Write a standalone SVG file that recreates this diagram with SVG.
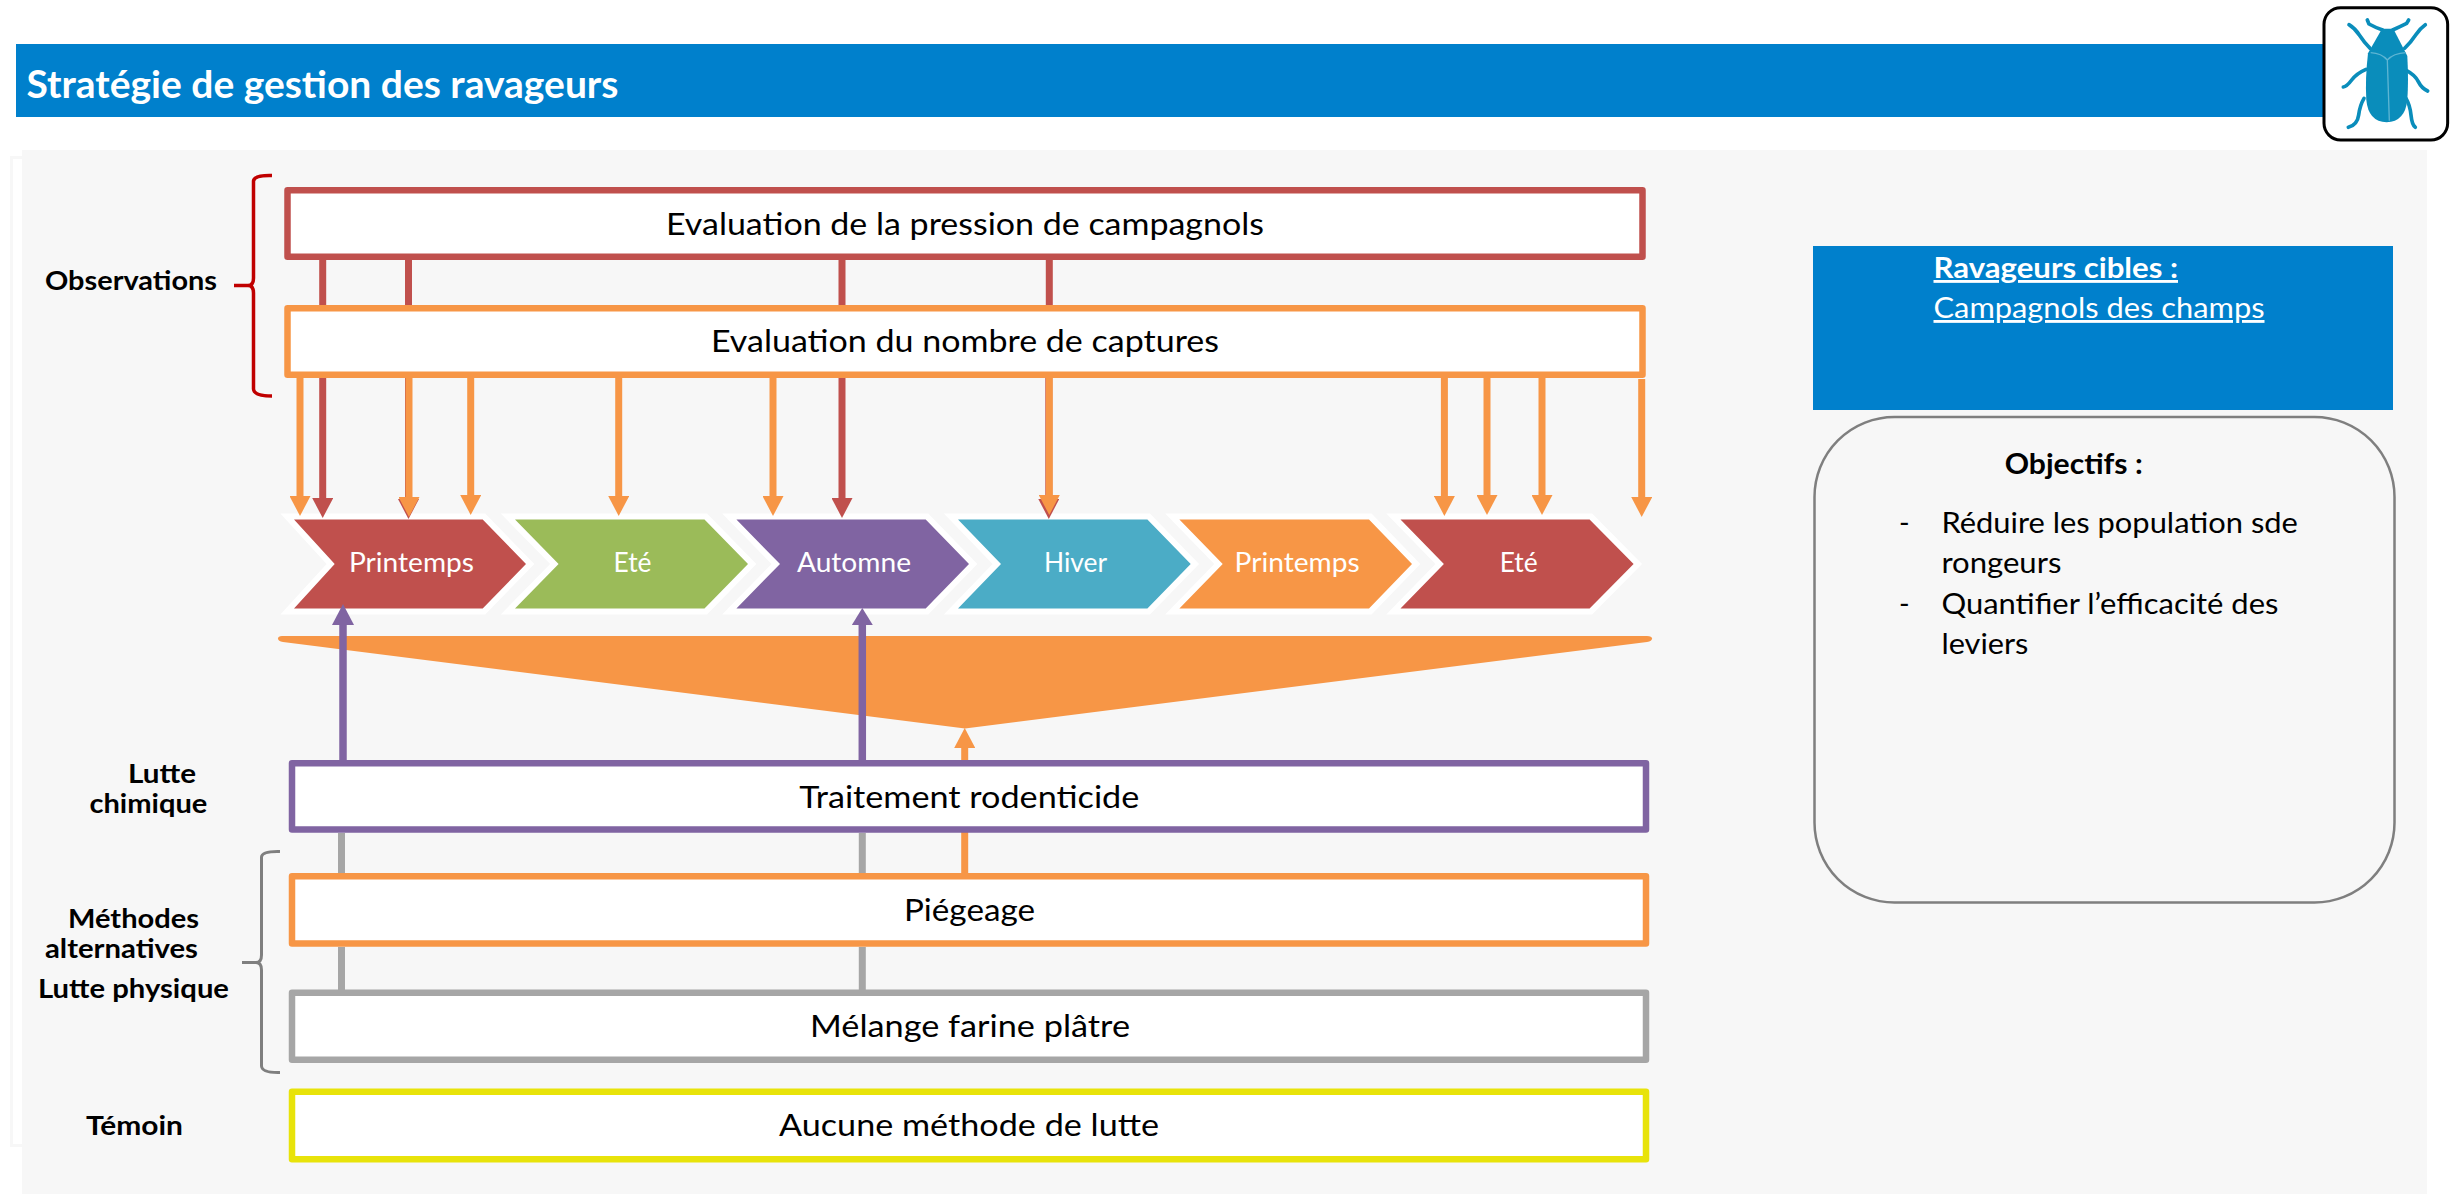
<svg xmlns="http://www.w3.org/2000/svg" width="2464" height="1194" viewBox="0 0 2464 1194">
<style>
text{font-family:Lato,"Liberation Sans",sans-serif;fill:#000}
.box{fill:#fff;stroke-width:6.5;stroke-linejoin:round}
.t{font-size:30px}
.lab{font-size:26px;font-weight:700}
.chev{stroke:#fff;stroke-width:12;stroke-linejoin:miter;stroke-miterlimit:8;paint-order:stroke}
.ct{font-size:26px;fill:#fff}
.pt{font-size:28.5px}
.w{fill:#fff}
.conn{fill:none;stroke-width:7}
.red{stroke:#C0504D}.org{stroke:#F79646}.pur{stroke:#8064A2;stroke-width:7.5}.gry{stroke:#A6A6A6}
.leg{fill:none;stroke:#0A8DBB;stroke-width:11;stroke-linecap:round;stroke-linejoin:round}
</style>
<defs>
<marker id="hr" markerUnits="userSpaceOnUse" markerWidth="21" markerHeight="21" refX="0" refY="10.5" orient="auto"><path d="M0 0L20 10.5L0 21z" fill="#C0504D"/></marker>
<marker id="ho" markerUnits="userSpaceOnUse" markerWidth="21" markerHeight="21" refX="0" refY="10.5" orient="auto"><path d="M0 0L20 10.5L0 21z" fill="#F79646"/></marker>
<marker id="hp" markerUnits="userSpaceOnUse" markerWidth="22" markerHeight="22" refX="0" refY="11" orient="auto"><path d="M0 0L21 11L0 22z" fill="#8064A2"/></marker>
<marker id="hp2" markerUnits="userSpaceOnUse" markerWidth="22" markerHeight="22" refX="0" refY="10.5" orient="auto"><path d="M0 0L17 10.5L0 21z" fill="#8064A2"/></marker>
</defs>
<rect width="2464" height="1194" fill="#fff"/>
<g id="background">
<rect x="11.5" y="157.5" width="20" height="988" fill="#fff" stroke="#F7F7F7" stroke-width="3"/>
<rect x="22" y="150" width="2405" height="1044" fill="#F7F7F7"/>
</g>
<g id="header">
<rect x="16" y="44" width="2320" height="73" fill="#0080CC"/>
<text x="26.500" y="98" class="w" font-size="38" font-weight="700" textLength="592" lengthAdjust="spacingAndGlyphs">Stratégie de gestion des ravageurs</text>
</g>
<g id="icon" transform="translate(2300 0) scale(0.3333)">
<rect x="72" y="23" width="371" height="397" rx="50" fill="#fff" stroke="#000" stroke-width="9"/>
<path class="leg" d="M147 74Q165 85 178 105T210 145M376 74Q360 85 347 105T314 145M198 208Q170 220 155 240T130 261M320 212Q345 225 355 245T383 273M192 295Q180 315 176 345T145 382M318 295Q330 315 333 345T346 382M248 90Q225 82 207 72L202 60M278 90Q300 80 320 70L326 60"/>
<path fill="#0A8DBB" d="M246 86H280L322 168Q326 240 322 300Q315 365 260 367Q205 365 199 300Q195 240 204 160z"/>
<path d="M212 158Q245 160 262 180Q280 160 318 158M262 180L268 362" fill="none" stroke="#5DB5D3" stroke-width="4"/>
</g>
<g id="chev1"><path class="chev" fill="#C0504D" d="M294 519.500H482.700L526 564L482.700 608.500H294L334.700 564z"/><text x="349" y="572" class="ct" textLength="125" lengthAdjust="spacingAndGlyphs">Printemps</text></g>
<g id="chev2"><path class="chev" fill="#9BBB59" d="M515 519.500H704.500L748 564L704.500 608.500H515L558.600 564z"/><text x="613.500" y="572" class="ct" textLength="38" lengthAdjust="spacingAndGlyphs">Eté</text></g>
<g id="chev3"><path class="chev" fill="#8064A2" d="M736.400 519.500H925.700L969 564L925.700 608.500H736.400L780 564z"/><text x="797" y="572" class="ct" textLength="114" lengthAdjust="spacingAndGlyphs">Automne</text></g>
<g id="chev4"><path class="chev" fill="#4BACC6" d="M958 519.500H1147.400L1190.700 564L1147.400 608.500H958L1001 564z"/><text x="1044" y="572" class="ct" textLength="63" lengthAdjust="spacingAndGlyphs">Hiver</text></g>
<g id="chev5"><path class="chev" fill="#F79646" d="M1179.400 519.500H1369L1412 564L1369 608.500H1179.400L1222.700 564z"/><text x="1234.600" y="572" class="ct" textLength="125" lengthAdjust="spacingAndGlyphs">Printemps</text></g>
<g id="chev6"><path class="chev" fill="#C0504D" d="M1400.500 519.500H1589.600L1633.600 564L1589.600 608.500H1400.500L1443.900 564z"/><text x="1499.700" y="572" class="ct" textLength="38" lengthAdjust="spacingAndGlyphs">Eté</text></g>
<g id="funnel"><path fill="#F79646" d="M282 636H1647Q1652 636 1652 638.500Q1652 641 1647 642L965 728.500L283 642Q278 641 278 638.500Q278 636 282 636z"/></g>
<g id="connectors" class="conn">
<path class="red" d="M322.700 260V305M408.500 260V305M842 260V305M1049.300 260V305"/>
<path class="red" d="M322.700 378V498" marker-end="url(#hr)"/>
<path class="red" d="M408.500 378V499" marker-end="url(#hr)"/>
<path class="red" d="M842 378V498" marker-end="url(#hr)"/>
<path class="red" d="M1048.800 378V499" marker-end="url(#hr)"/>
<path class="org" d="M300 378V496" marker-end="url(#ho)"/>
<path class="org" d="M409 378V497" marker-end="url(#ho)"/>
<path class="org" d="M470.700 378V495" marker-end="url(#ho)"/>
<path class="org" d="M618.700 378V496" marker-end="url(#ho)"/>
<path class="org" d="M773 378V496" marker-end="url(#ho)"/>
<path class="org" d="M1049.300 378V495" marker-end="url(#ho)"/>
<path class="org" d="M1444.400 378V496" marker-end="url(#ho)"/>
<path class="org" d="M1487 378V495" marker-end="url(#ho)"/>
<path class="org" d="M1542 378V495" marker-end="url(#ho)"/>
<path class="org" d="M1641.700 379V497" marker-end="url(#ho)"/>
<path class="pur" d="M343 760V625" marker-end="url(#hp)"/>
<path class="pur" d="M862.300 760V625" marker-end="url(#hp2)"/>
<path class="org" d="M964.700 873V748" marker-end="url(#ho)"/>
<path class="gry" d="M341.500 833V873M341.500 947V990M862.300 833V873M862.300 947V990"/>
</g>
<g id="box-pression"><rect class="box" x="287.500" y="190.300" width="1355" height="66.500" stroke="#C0504D"/><text x="666" y="235" class="t" textLength="598" lengthAdjust="spacingAndGlyphs">Evaluation de la pression de campagnols</text></g>
<g id="box-captures"><rect class="box" x="287.500" y="308.300" width="1355" height="66.500" stroke="#F79646"/><text x="711" y="352" class="t" textLength="508" lengthAdjust="spacingAndGlyphs">Evaluation du nombre de captures</text></g>
<g id="box-traitement"><rect class="box" x="292" y="763.300" width="1354" height="66.300" stroke="#8064A2"/><text x="799.300" y="808" class="t" textLength="340" lengthAdjust="spacingAndGlyphs">Traitement rodenticide</text></g>
<g id="box-piegeage"><rect class="box" x="292" y="876.300" width="1354" height="67.200" stroke="#F79646"/><text x="904" y="921" class="t" textLength="131" lengthAdjust="spacingAndGlyphs">Piégeage</text></g>
<g id="box-melange"><rect class="box" x="292" y="992.800" width="1354" height="67" stroke="#A6A6A6"/><text x="810" y="1037" class="t" textLength="320" lengthAdjust="spacingAndGlyphs">Mélange farine plâtre</text></g>
<g id="box-aucune"><rect class="box" x="292" y="1091.800" width="1354" height="67.500" stroke="#E8E30A"/><text x="779" y="1136" class="t" textLength="380" lengthAdjust="spacingAndGlyphs">Aucune méthode de lutte</text></g>
<g id="brace-observations"><path d="M272 175.500Q254 175 253.500 181V278Q253.500 285.500 248 285.500H234M248 285.500Q253.500 285.500 253.500 293V389Q254 396 272 396" fill="none" stroke="#C00000" stroke-width="3.500"/></g>
<g id="brace-methodes"><path d="M280 851.500Q262 851 261.500 857V955Q261.500 962.500 256 962.500H242M256 962.500Q261.500 962.500 261.500 970V1066Q262 1073 280 1072.500" fill="none" stroke="#7F7F7F" stroke-width="3"/></g>
<g id="labels">
<text x="45" y="290" class="lab" textLength="172" lengthAdjust="spacingAndGlyphs">Observations</text>
<text x="128" y="783" class="lab" textLength="68" lengthAdjust="spacingAndGlyphs">Lutte</text>
<text x="89.400" y="813.400" class="lab" textLength="118" lengthAdjust="spacingAndGlyphs">chimique</text>
<text x="68" y="927.700" class="lab" textLength="131" lengthAdjust="spacingAndGlyphs">Méthodes</text>
<text x="45" y="958" class="lab" textLength="153" lengthAdjust="spacingAndGlyphs">alternatives</text>
<text x="38" y="998" class="lab" textLength="191" lengthAdjust="spacingAndGlyphs">Lutte physique</text>
<text x="86" y="1134.600" class="lab" textLength="97" lengthAdjust="spacingAndGlyphs">Témoin</text>
</g>
<g id="ravageurs">
<rect x="1813" y="246" width="580" height="164" fill="#0080CC"/>
<text x="1933.500" y="278" class="pt w" font-weight="700" text-decoration="underline" textLength="244.500" lengthAdjust="spacingAndGlyphs">Ravageurs cibles :</text>
<text x="1933.500" y="318" class="pt w" text-decoration="underline" textLength="331" lengthAdjust="spacingAndGlyphs">Campagnols des champs</text>
</g>
<g id="objectifs">
<rect x="1814.500" y="417" width="580" height="485.500" rx="80" fill="#F7F7F7" stroke="#7F7F7F" stroke-width="2.500"/>
<text x="2004.700" y="473.600" class="pt" font-weight="700" textLength="138" lengthAdjust="spacingAndGlyphs">Objectifs :</text>
<text x="1899" y="533" class="pt">-</text>
<text x="1941.400" y="533" class="pt" textLength="356.500" lengthAdjust="spacingAndGlyphs">Réduire les population sde</text>
<text x="1941.400" y="572.700" class="pt" textLength="120" lengthAdjust="spacingAndGlyphs">rongeurs</text>
<text x="1899" y="613.700" class="pt">-</text>
<text x="1941.400" y="613.700" class="pt" textLength="337" lengthAdjust="spacingAndGlyphs">Quantifier l’efficacité des</text>
<text x="1941.400" y="654" class="pt" textLength="87" lengthAdjust="spacingAndGlyphs">leviers</text>
</g>
</svg>
